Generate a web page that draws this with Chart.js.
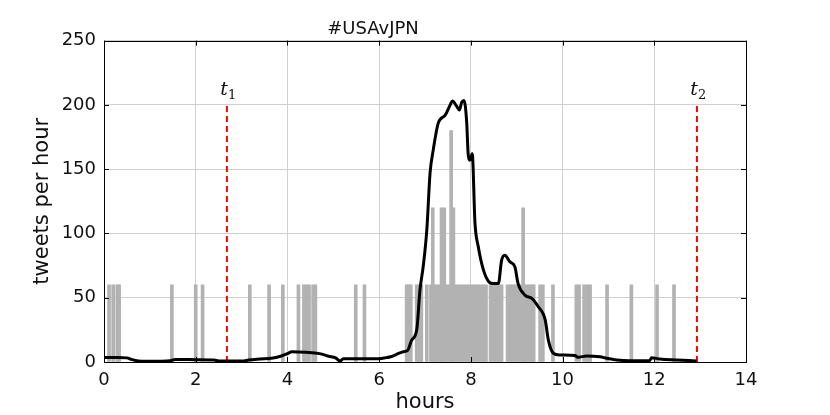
<!DOCTYPE html>
<html>
<head>
<meta charset="utf-8">
<script src="https://cdn.jsdelivr.net/npm/chart.js@4"></script>
<style>
  body { margin: 0; background: #fff; }
</style>
</head>
<body>
<canvas id="tweetChart" width="830" height="415"></canvas>
<script>
var chartTitle = '#USAvJPN';
var xTitle = 'hours';
var yTitle = 'tweets per hour';

// gray spikes: hour position and tweets per hour for that minute
var barHours = [0.11, 0.2, 0.29, 0.33, 1.48, 2.0, 2.15, 3.18, 3.6, 3.9,
    4.24, 4.36, 4.42, 4.47, 4.56, 4.61, 5.49, 5.68, 6.6, 6.65, 6.69, 6.82, 6.87, 6.92, 7.04,
    7.13, 7.19, 7.25, 7.31, 7.37, 7.43, 7.49, 7.55, 7.61, 7.67, 7.73, 7.79, 7.85, 7.91, 7.97,
    8.03, 8.09, 8.15, 8.21, 8.27, 8.33, 8.43, 8.49, 8.55, 8.61, 8.67,
    8.80, 8.86, 8.92, 8.98, 9.04, 9.10, 9.16, 9.22, 9.28, 9.34, 9.37,
    7.17, 7.36, 7.42, 7.57, 7.62, 9.14,
    9.51, 9.57, 9.79, 10.3, 10.36, 10.47, 10.54, 10.6, 10.97, 11.5, 12.06, 12.43];
var barCounts = [60, 60, 60, 60, 60, 60, 60, 60, 60, 60,
    60, 60, 60, 60, 60, 60, 60, 60, 60, 60, 60, 60, 60, 60, 60,
    60, 60, 60, 60, 60, 60, 60, 60, 60, 60, 60, 60, 60, 60, 60,
    60, 60, 60, 60, 60, 60, 60, 60, 60, 60, 60,
    60, 60, 60, 60, 60, 60, 60, 60, 60, 60, 60,
    120, 120, 120, 180, 120, 120,
    60, 60, 60, 60, 60, 60, 60, 60, 60, 60, 60, 60];

// smoothed rate (black line)
var rateHours = [0, 0.3, 0.5, 0.6, 0.75, 0.9, 1.2, 1.45, 1.55, 1.7, 2.0, 2.4, 2.5, 2.8, 3.05, 3.15,
    3.4, 3.65, 3.85, 4.0, 4.1, 4.4, 4.7, 4.9, 5.05, 5.15, 5.22, 5.6, 6.0, 6.15, 6.25, 6.38,
    6.53, 6.62, 6.71, 6.82, 6.89, 6.96, 7.04, 7.11, 7.18, 7.29, 7.44, 7.55, 7.6, 7.69, 7.75,
    7.8, 7.85, 7.91, 7.94, 7.98, 8.03, 8.09, 8.16, 8.27, 8.38, 8.5, 8.6, 8.67, 8.74, 8.85,
    8.96, 9.03, 9.18, 9.33, 9.47, 9.62, 9.69, 9.8, 9.94, 10.27, 10.34, 10.52, 10.82, 10.96,
    11.18, 11.47, 11.9, 11.94, 12.12, 12.49, 12.92];
var rateValues = [3.5, 3.5, 3.2, 2.0, 0.8, 0.5, 0.6, 1.0, 2.0, 2.0, 1.8, 1.6, 0.8, 0.7, 0.8, 1.5,
    2.3, 2.9, 4.5, 6.5, 8, 7.5, 6.5, 4.5, 3.2, 0.8, 2.6, 2.6, 2.6, 3.4, 4.1, 6.0,
    8, 9, 17, 25, 56, 74, 103, 147, 165, 186, 192, 200, 203, 199, 196,
    202, 203.5, 186, 162.5, 157, 162, 108, 90, 72, 63, 61, 61, 79, 83, 78,
    74, 61, 52, 49.5, 43, 33, 17, 6.8, 5.5, 5, 3.6, 4.7, 4, 2.9,
    1.6, 1, 1.2, 3.4, 2.3, 1.6, 0.8];

// event markers t1, t2
var markerNames = ['1', '2'];
var markerHours = [2.68, 12.93];
var markerTop = 200;

var xTicks = [0, 2, 4, 6, 8, 10, 12, 14];
var yTicks = [0, 50, 100, 150, 200, 250];

var bars = barHours.map(function (h, i) { return { x: h, y: barCounts[i] }; });
var rate = rateHours.map(function (h, i) { return { x: h, y: rateValues[i] }; });

var datasets = [{
    type: 'bar',
    data: bars,
    backgroundColor: 'rgb(178, 178, 178)',
    barThickness: 3,
    grouped: false,
    order: 3
}, {
    type: 'line',
    data: rate,
    borderColor: '#000',
    borderWidth: 3,
    pointRadius: 0,
    cubicInterpolationMode: 'monotone',
    order: 0
}];
markerHours.forEach(function (h) {
    datasets.push({
        type: 'line',
        data: [{ x: h, y: 0 }, { x: h, y: markerTop }],
        borderColor: '#ff0000',
        borderWidth: 2,
        borderDash: [6, 4],
        pointRadius: 0,
        order: 1
    });
});

// frame, inward ticks and t labels like the matplotlib original
var framePlugin = {
    id: 'frame',
    afterDatasetsDraw: function (chart) {
        var ctx = chart.ctx, a = chart.chartArea;
        var xs = chart.scales.x, ys = chart.scales.y;
        ctx.save();
        ctx.strokeStyle = '#000';
        ctx.lineWidth = 1;
        ctx.beginPath();
        xTicks.forEach(function (v) {
            var px = Math.round(xs.getPixelForValue(v)) + 0.5;
            ctx.moveTo(px, a.bottom); ctx.lineTo(px, a.bottom - 5);
            ctx.moveTo(px, a.top); ctx.lineTo(px, a.top + 5);
        });
        yTicks.forEach(function (v) {
            var py = Math.round(ys.getPixelForValue(v)) + 0.5;
            ctx.moveTo(a.left, py); ctx.lineTo(a.left + 5, py);
            ctx.moveTo(a.right, py); ctx.lineTo(a.right - 5, py);
        });
        ctx.stroke();
        ctx.strokeRect(Math.round(a.left) + 0.5, Math.round(a.top) + 0.5,
            Math.round(a.right - a.left), Math.round(a.bottom - a.top));

        ctx.fillStyle = '#111';
        ctx.textBaseline = 'alphabetic';
        markerNames.forEach(function (n, i) {
            var px = xs.getPixelForValue(markerHours[i]);
            var py = ys.getPixelForValue(markerTop) - 10;
            ctx.font = 'italic 19px "DejaVu Serif"';
            ctx.textAlign = 'right';
            ctx.fillText('t', px + 1, py);
            ctx.font = '13px "DejaVu Serif"';
            ctx.textAlign = 'left';
            ctx.fillText(n, px + 1, py + 4);
        });
        ctx.restore();
    }
};

var ctx = document.getElementById('tweetChart');
var tweetChart = new Chart(ctx, {
    data: { datasets: datasets },
    plugins: [framePlugin],
    options: {
        responsive: false,
        animation: false,
        layout: { padding: { left: 0, right: 84, top: 0, bottom: 0 } },
        plugins: {
            legend: { display: false },
            tooltip: { enabled: false },
            title: {
                display: true,
                text: chartTitle,
                color: '#111',
                font: { family: 'DejaVu Sans', size: 18, weight: 'normal' },
                padding: { top: 19, bottom: 0 }
            }
        },
        scales: {
            x: {
                type: 'linear',
                min: 0,
                max: 14,
                offset: false,
                afterBuildTicks: function (scale) {
                    scale.ticks = xTicks.map(function (v) { return { value: v }; });
                },
                afterFit: function (scale) { scale.height = 53; },
                grid: { color: '#d0d0d0', drawTicks: false, offset: false },
                border: { display: false },
                ticks: {
                    color: '#111',
                    padding: 8,
                    maxRotation: 0,
                    font: { family: 'DejaVu Sans', size: 18 }
                },
                title: {
                    display: true,
                    text: xTitle,
                    color: '#111',
                    font: { family: 'DejaVu Sans', size: 21 },
                    padding: { top: 0, bottom: 0 }
                }
            },
            y: {
                min: 0,
                max: 250,
                afterBuildTicks: function (scale) {
                    scale.ticks = yTicks.map(function (v) { return { value: v }; });
                },
                afterFit: function (scale) { scale.width = 104; },
                grid: { color: '#d0d0d0', drawTicks: false },
                border: { display: false },
                ticks: {
                    color: '#111',
                    padding: 8,
                    font: { family: 'DejaVu Sans', size: 18 }
                },
                title: {
                    display: true,
                    text: yTitle,
                    color: '#111',
                    font: { family: 'DejaVu Sans', size: 21 },
                    padding: { top: 30, bottom: 0 }
                }
            }
        }
    }
});
</script>
</body>
</html>
